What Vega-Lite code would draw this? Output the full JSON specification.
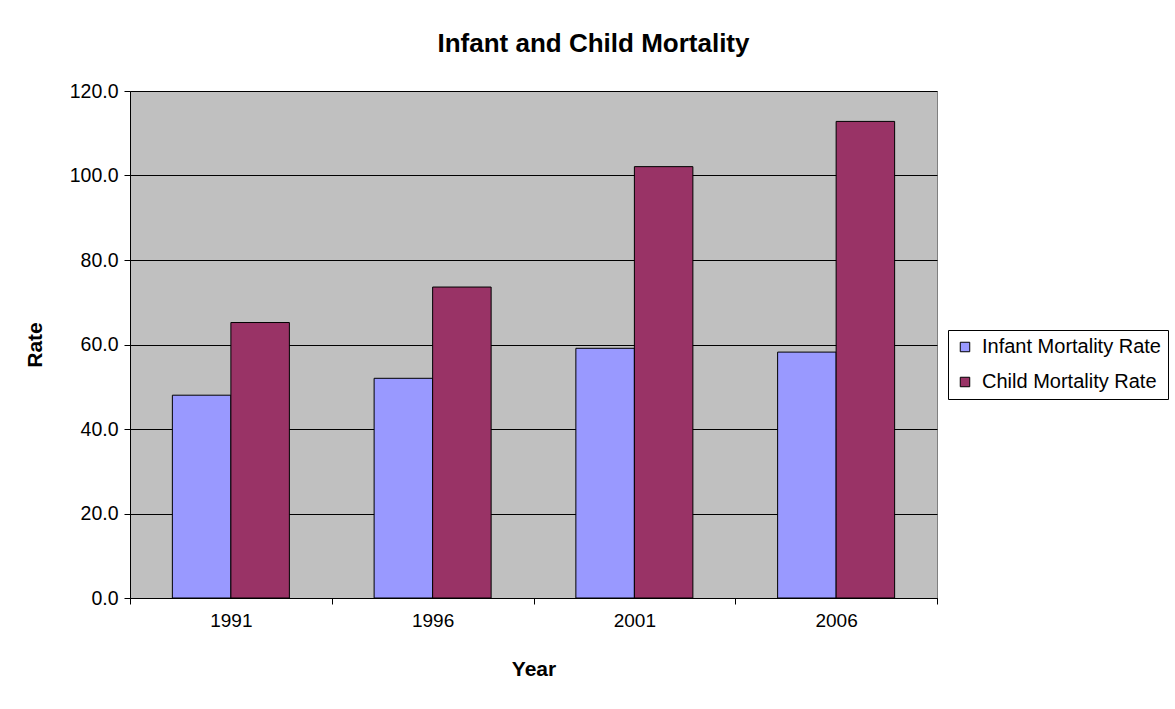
{
  "$schema": "https://vega.github.io/schema/vega-lite/v6.json",
  "width": 807,
  "height": 507,
  "autosize": {"type": "none"},
  "padding": {"left": 130, "top": 91, "right": 238, "bottom": 111},
  "background": "white",
  "title": {
    "text": "Infant and Child Mortality",
    "font": "Liberation Sans",
    "fontSize": 26,
    "fontWeight": "bold",
    "color": "black",
    "anchor": "middle",
    "dx": 60,
    "offset": 24
  },
  "config": {
    "view": {"fill": "#C0C0C0", "stroke": "#808080", "strokeWidth": 1},
    "font": "Liberation Sans"
  },
  "data": {
    "values": [
      {"Year": "1991", "Series": "Infant Mortality Rate", "Rate": 48.0},
      {"Year": "1991", "Series": "Child Mortality Rate", "Rate": 65.2},
      {"Year": "1996", "Series": "Infant Mortality Rate", "Rate": 52.0},
      {"Year": "1996", "Series": "Child Mortality Rate", "Rate": 73.6},
      {"Year": "2001", "Series": "Infant Mortality Rate", "Rate": 59.1},
      {"Year": "2001", "Series": "Child Mortality Rate", "Rate": 102.1},
      {"Year": "2006", "Series": "Infant Mortality Rate", "Rate": 58.2},
      {"Year": "2006", "Series": "Child Mortality Rate", "Rate": 112.8}
    ]
  },
  "mark": {"type": "bar", "stroke": "black", "strokeWidth": 1},
  "encoding": {
    "x": {
      "field": "Year",
      "type": "nominal",
      "scale": {"paddingInner": 0, "paddingOuter": 0},
      "axis": {
        "title": "Year",
        "titleFont": "Liberation Sans",
        "titleFontSize": 21,
        "titleFontWeight": "bold",
        "titleColor": "black",
        "titlePadding": 28,
        "labelAngle": 0,
        "labelFont": "Liberation Sans",
        "labelFontSize": 19,
        "labelColor": "black",
        "labelPadding": 7,
        "tickBand": "extent",
        "tickColor": "black",
        "tickSize": 6,
        "domainColor": "black",
        "grid": false
      }
    },
    "xOffset": {
      "field": "Series",
      "type": "nominal",
      "sort": ["Infant Mortality Rate", "Child Mortality Rate"],
      "scale": {"paddingInner": 0, "paddingOuter": 0.724}
    },
    "y": {
      "field": "Rate",
      "type": "quantitative",
      "scale": {"domain": [0, 120], "nice": false},
      "axis": {
        "title": "Rate",
        "titleFont": "Liberation Sans",
        "titleFontSize": 21,
        "titleFontWeight": "bold",
        "titleColor": "black",
        "titlePadding": 24,
        "values": [0, 20, 40, 60, 80, 100, 120],
        "format": ".1f",
        "labelFont": "Liberation Sans",
        "labelFontSize": 19.5,
        "labelColor": "black",
        "labelPadding": 6,
        "tickColor": "black",
        "tickSize": 6,
        "domainColor": "black",
        "grid": true,
        "gridColor": "black",
        "gridWidth": 1
      }
    },
    "color": {
      "field": "Series",
      "type": "nominal",
      "scale": {
        "domain": ["Infant Mortality Rate", "Child Mortality Rate"],
        "range": ["#9999FF", "#993366"]
      },
      "legend": {
        "title": null,
        "orient": "none",
        "legendX": 818,
        "legendY": 239,
        "strokeColor": "black",
        "fillColor": "white",
        "padding": 7,
        "symbolType": "square",
        "symbolSize": 90,
        "symbolStrokeColor": "black",
        "symbolStrokeWidth": 1,
        "labelFont": "Liberation Sans",
        "labelFontSize": 20,
        "labelOffset": 7,
        "labelLimit": 400,
        "labelColor": "black",
        "rowPadding": 15
      }
    }
  }
}
